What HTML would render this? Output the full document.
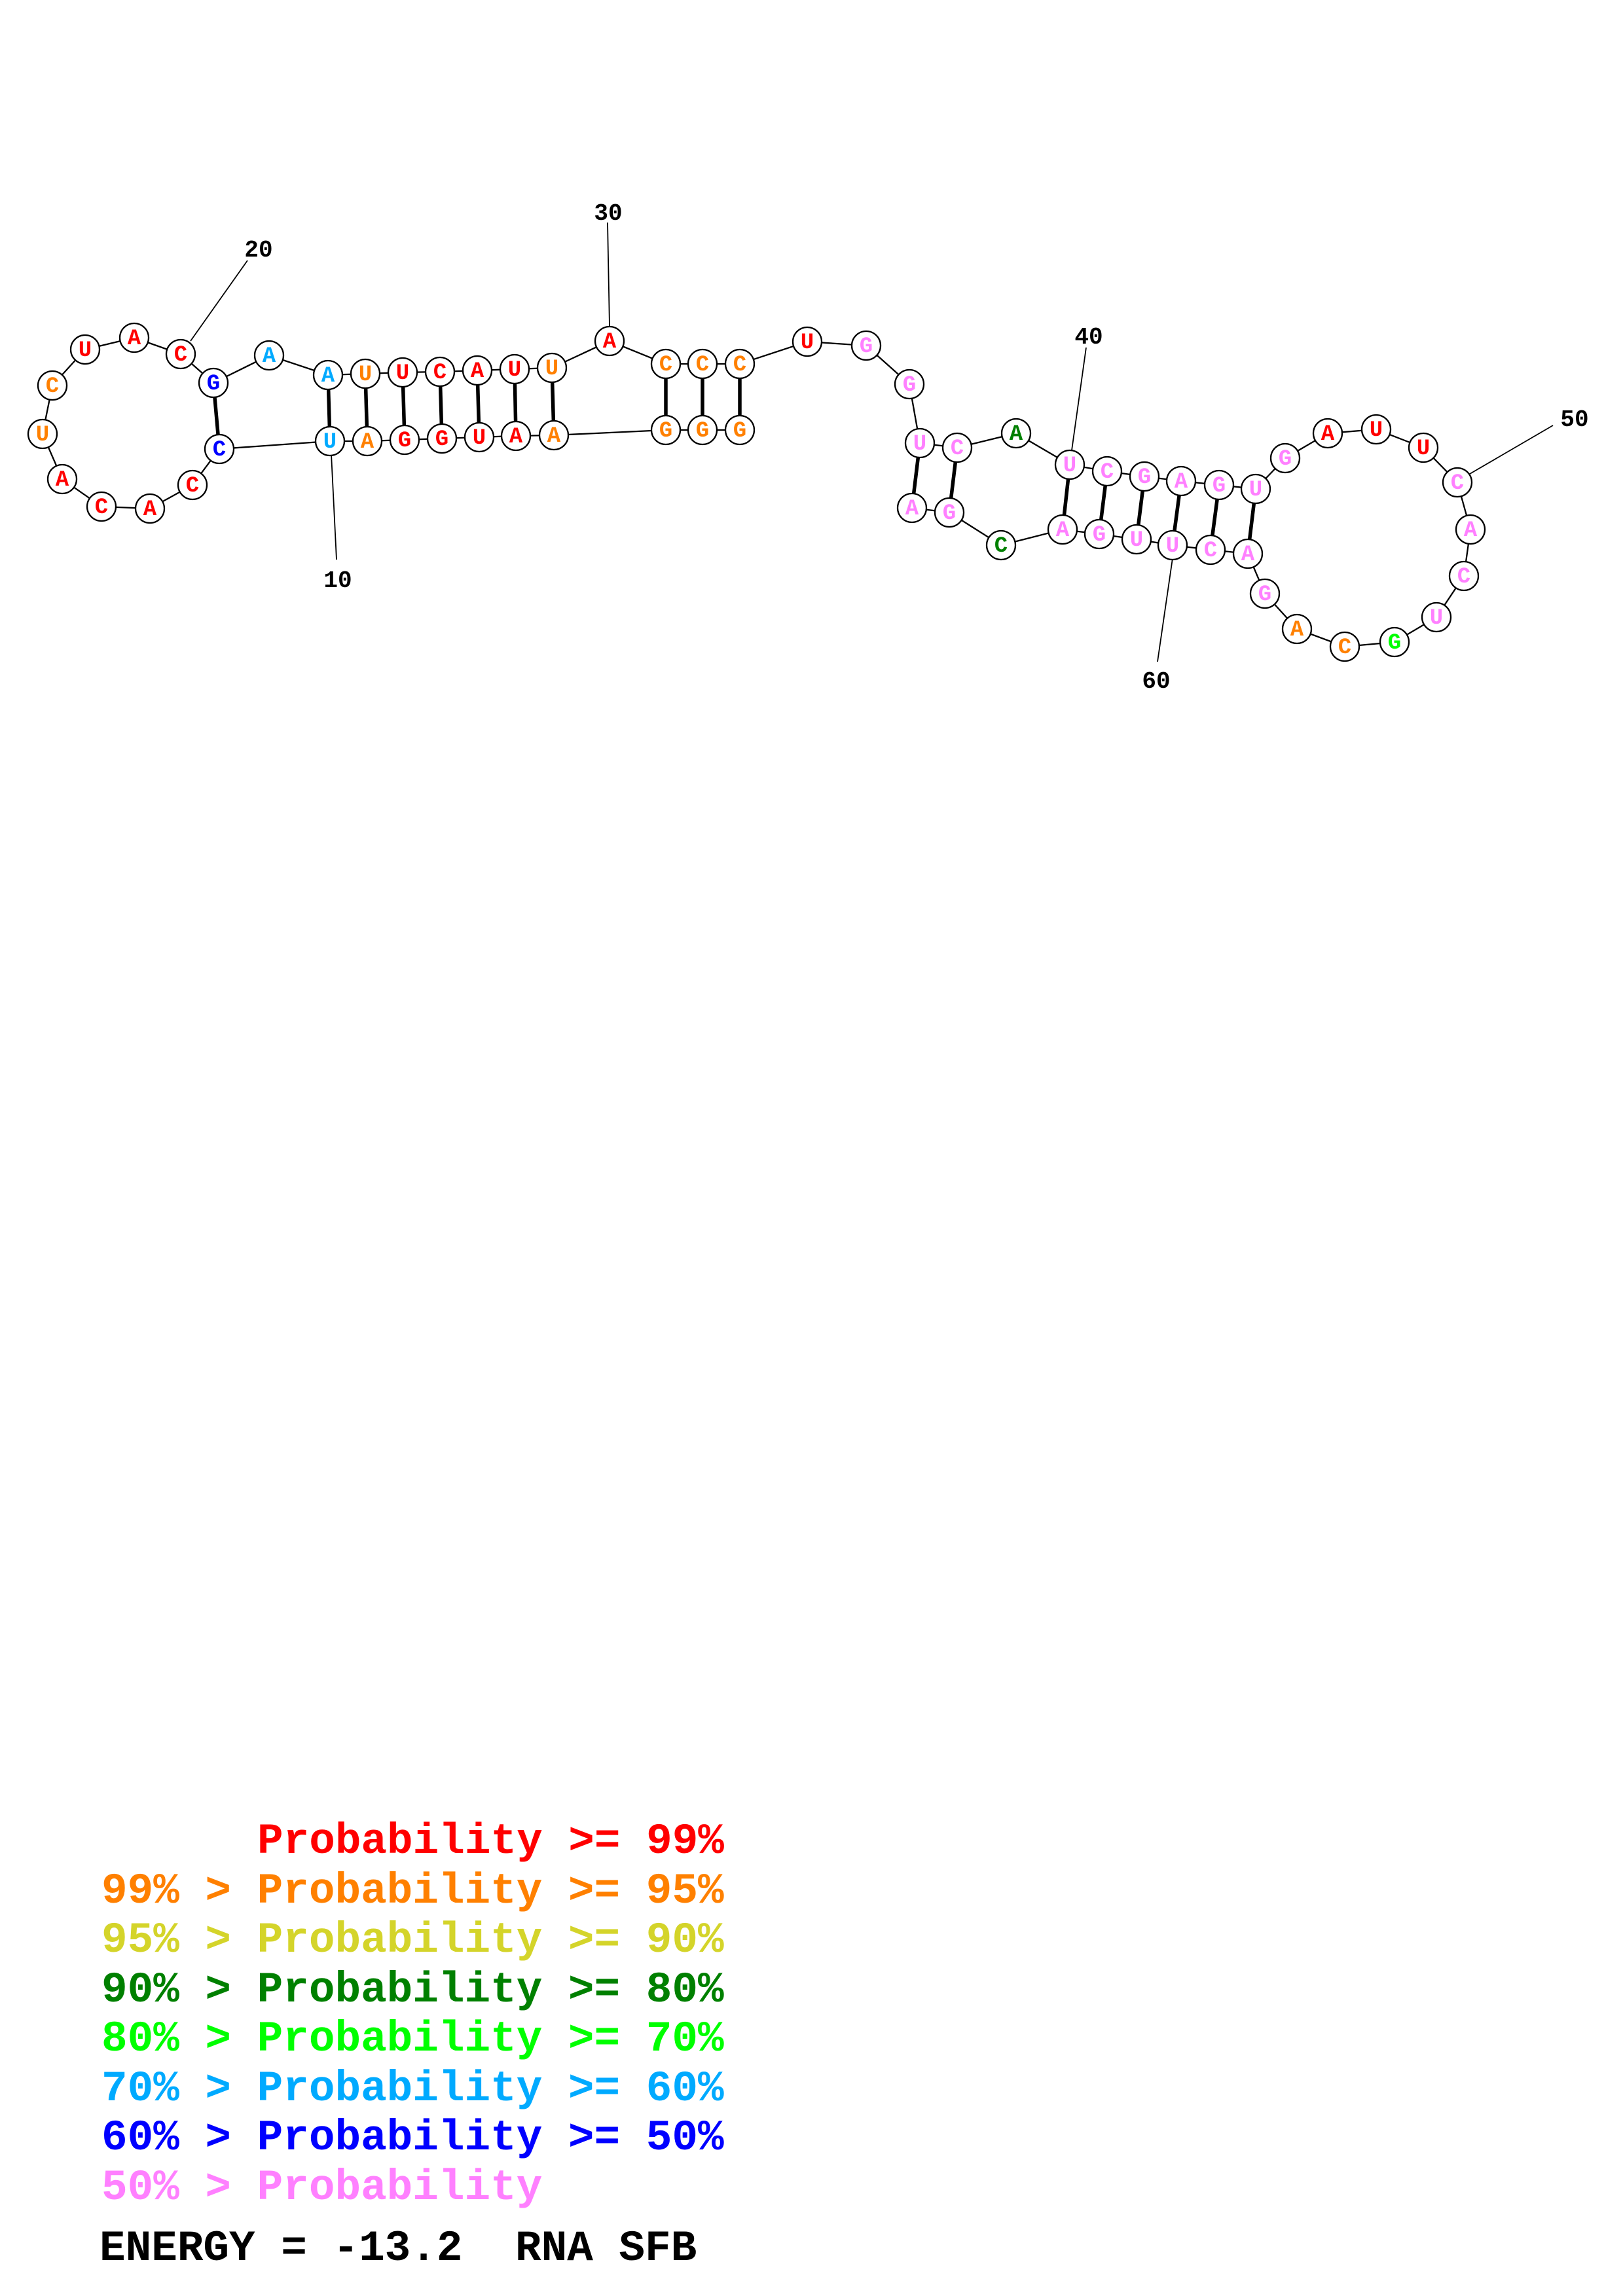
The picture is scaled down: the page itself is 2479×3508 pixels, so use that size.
<!DOCTYPE html>
<html><head><meta charset="utf-8"><style>
html,body{margin:0;padding:0;background:#fff;}
svg{display:block;}
.n text{font-family:"Liberation Mono",monospace;font-weight:bold;font-size:34px;text-anchor:middle;dominant-baseline:central;}
.lab{font-family:"Liberation Mono",monospace;font-weight:bold;font-size:36px;text-anchor:middle;}
.leg{font-family:"Liberation Mono",monospace;font-weight:bold;font-size:66px;}
</style></head><body>
<svg width="2479" height="3508" viewBox="0 0 2479 3508" xmlns="http://www.w3.org/2000/svg">
<rect width="2479" height="3508" fill="#fff"/>
<polyline fill="none" stroke="#000" stroke-width="2.3" points="1130,657 1073,657 1017,657 846,665 788,666 732,668 675,670 618,672 561,674 504,674 335,686 294,741 229,777 155,774 95,732 65,663 80,589 130,534 205,516 276,541 326,585 411,543 501,573 558,571 615,569 672,568 729,566 786,564 843,562 931,521 1017,556 1073,556 1130,556 1233,522 1323,528 1389,587 1405,677 1462,684 1552,662 1634,710 1691,720 1748,728 1804,735 1862,741 1918,747 1963,700 2028,662 2102,656 2174,684 2226,737 2246,809 2236,880 2194,943 2130,981 2054,988 1981,961 1932,907 1906,846 1849,840 1791,833 1736,824 1679,816 1623,809 1529,833 1450,783 1393,776"/>
<g stroke="#000" stroke-width="5.5">
<line x1="1130" y1="657" x2="1130" y2="556"/>
<line x1="1073" y1="657" x2="1073" y2="556"/>
<line x1="1017" y1="657" x2="1017" y2="556"/>
<line x1="846" y1="665" x2="843" y2="562"/>
<line x1="788" y1="666" x2="786" y2="564"/>
<line x1="732" y1="668" x2="729" y2="566"/>
<line x1="675" y1="670" x2="672" y2="568"/>
<line x1="618" y1="672" x2="615" y2="569"/>
<line x1="561" y1="674" x2="558" y2="571"/>
<line x1="504" y1="674" x2="501" y2="573"/>
<line x1="335" y1="686" x2="326" y2="585"/>
<line x1="1405" y1="677" x2="1393" y2="776"/>
<line x1="1462" y1="684" x2="1450" y2="783"/>
<line x1="1634" y1="710" x2="1623" y2="809"/>
<line x1="1691" y1="720" x2="1679" y2="816"/>
<line x1="1748" y1="728" x2="1736" y2="824"/>
<line x1="1804" y1="735" x2="1791" y2="833"/>
<line x1="1862" y1="741" x2="1849" y2="840"/>
<line x1="1918" y1="747" x2="1906" y2="846"/>
</g>
<g stroke="#000" stroke-width="1.8">
<line x1="506" y1="694" x2="514" y2="855"/>
<line x1="291" y1="521" x2="378" y2="398"/>
<line x1="931" y1="499" x2="928" y2="340"/>
<line x1="1637" y1="688" x2="1659" y2="531"/>
<line x1="2245" y1="724" x2="2372" y2="650"/>
<line x1="1791" y1="853" x2="1768" y2="1011"/>
</g>
<g class="lab">
<text x="516" y="897">10</text>
<text x="395" y="392">20</text>
<text x="929" y="336">30</text>
<text x="1663" y="525">40</text>
<text x="2405" y="651">50</text>
<text x="1766" y="1051">60</text>
</g>
<g class="n" stroke-width="2.3">
<g><circle cx="1130" cy="657" r="22" fill="#fff" stroke="#000"/><text x="1130" y="659" fill="#FF8000">G</text></g>
<g><circle cx="1073" cy="657" r="22" fill="#fff" stroke="#000"/><text x="1073" y="659" fill="#FF8000">G</text></g>
<g><circle cx="1017" cy="657" r="22" fill="#fff" stroke="#000"/><text x="1017" y="659" fill="#FF8000">G</text></g>
<g><circle cx="846" cy="665" r="22" fill="#fff" stroke="#000"/><text x="846" y="667" fill="#FF8000">A</text></g>
<g><circle cx="788" cy="666" r="22" fill="#fff" stroke="#000"/><text x="788" y="668" fill="#FF0000">A</text></g>
<g><circle cx="732" cy="668" r="22" fill="#fff" stroke="#000"/><text x="732" y="670" fill="#FF0000">U</text></g>
<g><circle cx="675" cy="670" r="22" fill="#fff" stroke="#000"/><text x="675" y="672" fill="#FF0000">G</text></g>
<g><circle cx="618" cy="672" r="22" fill="#fff" stroke="#000"/><text x="618" y="674" fill="#FF0000">G</text></g>
<g><circle cx="561" cy="674" r="22" fill="#fff" stroke="#000"/><text x="561" y="676" fill="#FF8000">A</text></g>
<g><circle cx="504" cy="674" r="22" fill="#fff" stroke="#000"/><text x="504" y="676" fill="#00AAFF">U</text></g>
<g><circle cx="335" cy="686" r="22" fill="#fff" stroke="#000"/><text x="335" y="688" fill="#0000FF">C</text></g>
<g><circle cx="294" cy="741" r="22" fill="#fff" stroke="#000"/><text x="294" y="743" fill="#FF0000">C</text></g>
<g><circle cx="229" cy="777" r="22" fill="#fff" stroke="#000"/><text x="229" y="779" fill="#FF0000">A</text></g>
<g><circle cx="155" cy="774" r="22" fill="#fff" stroke="#000"/><text x="155" y="776" fill="#FF0000">C</text></g>
<g><circle cx="95" cy="732" r="22" fill="#fff" stroke="#000"/><text x="95" y="734" fill="#FF0000">A</text></g>
<g><circle cx="65" cy="663" r="22" fill="#fff" stroke="#000"/><text x="65" y="665" fill="#FF8000">U</text></g>
<g><circle cx="80" cy="589" r="22" fill="#fff" stroke="#000"/><text x="80" y="591" fill="#FF8000">C</text></g>
<g><circle cx="130" cy="534" r="22" fill="#fff" stroke="#000"/><text x="130" y="536" fill="#FF0000">U</text></g>
<g><circle cx="205" cy="516" r="22" fill="#fff" stroke="#000"/><text x="205" y="518" fill="#FF0000">A</text></g>
<g><circle cx="276" cy="541" r="22" fill="#fff" stroke="#000"/><text x="276" y="543" fill="#FF0000">C</text></g>
<g><circle cx="326" cy="585" r="22" fill="#fff" stroke="#000"/><text x="326" y="587" fill="#0000FF">G</text></g>
<g><circle cx="411" cy="543" r="22" fill="#fff" stroke="#000"/><text x="411" y="545" fill="#00AAFF">A</text></g>
<g><circle cx="501" cy="573" r="22" fill="#fff" stroke="#000"/><text x="501" y="575" fill="#00AAFF">A</text></g>
<g><circle cx="558" cy="571" r="22" fill="#fff" stroke="#000"/><text x="558" y="573" fill="#FF8000">U</text></g>
<g><circle cx="615" cy="569" r="22" fill="#fff" stroke="#000"/><text x="615" y="571" fill="#FF0000">U</text></g>
<g><circle cx="672" cy="568" r="22" fill="#fff" stroke="#000"/><text x="672" y="570" fill="#FF0000">C</text></g>
<g><circle cx="729" cy="566" r="22" fill="#fff" stroke="#000"/><text x="729" y="568" fill="#FF0000">A</text></g>
<g><circle cx="786" cy="564" r="22" fill="#fff" stroke="#000"/><text x="786" y="566" fill="#FF0000">U</text></g>
<g><circle cx="843" cy="562" r="22" fill="#fff" stroke="#000"/><text x="843" y="564" fill="#FF8000">U</text></g>
<g><circle cx="931" cy="521" r="22" fill="#fff" stroke="#000"/><text x="931" y="523" fill="#FF0000">A</text></g>
<g><circle cx="1017" cy="556" r="22" fill="#fff" stroke="#000"/><text x="1017" y="558" fill="#FF8000">C</text></g>
<g><circle cx="1073" cy="556" r="22" fill="#fff" stroke="#000"/><text x="1073" y="558" fill="#FF8000">C</text></g>
<g><circle cx="1130" cy="556" r="22" fill="#fff" stroke="#000"/><text x="1130" y="558" fill="#FF8000">C</text></g>
<g><circle cx="1233" cy="522" r="22" fill="#fff" stroke="#000"/><text x="1233" y="524" fill="#FF0000">U</text></g>
<g><circle cx="1323" cy="528" r="22" fill="#fff" stroke="#000"/><text x="1323" y="530" fill="#FF80FF">G</text></g>
<g><circle cx="1389" cy="587" r="22" fill="#fff" stroke="#000"/><text x="1389" y="589" fill="#FF80FF">G</text></g>
<g><circle cx="1405" cy="677" r="22" fill="#fff" stroke="#000"/><text x="1405" y="679" fill="#FF80FF">U</text></g>
<g><circle cx="1462" cy="684" r="22" fill="#fff" stroke="#000"/><text x="1462" y="686" fill="#FF80FF">C</text></g>
<g><circle cx="1552" cy="662" r="22" fill="#fff" stroke="#000"/><text x="1552" y="664" fill="#008000">A</text></g>
<g><circle cx="1634" cy="710" r="22" fill="#fff" stroke="#000"/><text x="1634" y="712" fill="#FF80FF">U</text></g>
<g><circle cx="1691" cy="720" r="22" fill="#fff" stroke="#000"/><text x="1691" y="722" fill="#FF80FF">C</text></g>
<g><circle cx="1748" cy="728" r="22" fill="#fff" stroke="#000"/><text x="1748" y="730" fill="#FF80FF">G</text></g>
<g><circle cx="1804" cy="735" r="22" fill="#fff" stroke="#000"/><text x="1804" y="737" fill="#FF80FF">A</text></g>
<g><circle cx="1862" cy="741" r="22" fill="#fff" stroke="#000"/><text x="1862" y="743" fill="#FF80FF">G</text></g>
<g><circle cx="1918" cy="747" r="22" fill="#fff" stroke="#000"/><text x="1918" y="749" fill="#FF80FF">U</text></g>
<g><circle cx="1963" cy="700" r="22" fill="#fff" stroke="#000"/><text x="1963" y="702" fill="#FF80FF">G</text></g>
<g><circle cx="2028" cy="662" r="22" fill="#fff" stroke="#000"/><text x="2028" y="664" fill="#FF0000">A</text></g>
<g><circle cx="2102" cy="656" r="22" fill="#fff" stroke="#000"/><text x="2102" y="658" fill="#FF0000">U</text></g>
<g><circle cx="2174" cy="684" r="22" fill="#fff" stroke="#000"/><text x="2174" y="686" fill="#FF0000">U</text></g>
<g><circle cx="2226" cy="737" r="22" fill="#fff" stroke="#000"/><text x="2226" y="739" fill="#FF80FF">C</text></g>
<g><circle cx="2246" cy="809" r="22" fill="#fff" stroke="#000"/><text x="2246" y="811" fill="#FF80FF">A</text></g>
<g><circle cx="2236" cy="880" r="22" fill="#fff" stroke="#000"/><text x="2236" y="882" fill="#FF80FF">C</text></g>
<g><circle cx="2194" cy="943" r="22" fill="#fff" stroke="#000"/><text x="2194" y="945" fill="#FF80FF">U</text></g>
<g><circle cx="2130" cy="981" r="22" fill="#fff" stroke="#000"/><text x="2130" y="983" fill="#00FF00">G</text></g>
<g><circle cx="2054" cy="988" r="22" fill="#fff" stroke="#000"/><text x="2054" y="990" fill="#FF8000">C</text></g>
<g><circle cx="1981" cy="961" r="22" fill="#fff" stroke="#000"/><text x="1981" y="963" fill="#FF8000">A</text></g>
<g><circle cx="1932" cy="907" r="22" fill="#fff" stroke="#000"/><text x="1932" y="909" fill="#FF80FF">G</text></g>
<g><circle cx="1906" cy="846" r="22" fill="#fff" stroke="#000"/><text x="1906" y="848" fill="#FF80FF">A</text></g>
<g><circle cx="1849" cy="840" r="22" fill="#fff" stroke="#000"/><text x="1849" y="842" fill="#FF80FF">C</text></g>
<g><circle cx="1791" cy="833" r="22" fill="#fff" stroke="#000"/><text x="1791" y="835" fill="#FF80FF">U</text></g>
<g><circle cx="1736" cy="824" r="22" fill="#fff" stroke="#000"/><text x="1736" y="826" fill="#FF80FF">U</text></g>
<g><circle cx="1679" cy="816" r="22" fill="#fff" stroke="#000"/><text x="1679" y="818" fill="#FF80FF">G</text></g>
<g><circle cx="1623" cy="809" r="22" fill="#fff" stroke="#000"/><text x="1623" y="811" fill="#FF80FF">A</text></g>
<g><circle cx="1529" cy="833" r="22" fill="#fff" stroke="#000"/><text x="1529" y="835" fill="#008000">C</text></g>
<g><circle cx="1450" cy="783" r="22" fill="#fff" stroke="#000"/><text x="1450" y="785" fill="#FF80FF">G</text></g>
<g><circle cx="1393" cy="776" r="22" fill="#fff" stroke="#000"/><text x="1393" y="778" fill="#FF80FF">A</text></g>
</g>
<g class="leg">
<text x="393" y="2831" fill="#FF0000">Probability &gt;= 99%</text>
<text x="155" y="2907" fill="#FF8000">99% &gt; Probability &gt;= 95%</text>
<text x="155" y="2982" fill="#D4D42A">95% &gt; Probability &gt;= 90%</text>
<text x="155" y="3058" fill="#008000">90% &gt; Probability &gt;= 80%</text>
<text x="155" y="3133" fill="#00FF00">80% &gt; Probability &gt;= 70%</text>
<text x="155" y="3209" fill="#00AAFF">70% &gt; Probability &gt;= 60%</text>
<text x="155" y="3284" fill="#0000FF">60% &gt; Probability &gt;= 50%</text>
<text x="155" y="3360" fill="#FF80FF">50% &gt; Probability</text>
<text x="152" y="3453" fill="#000">ENERGY = -13.2</text>
<text x="787" y="3453" fill="#000">RNA SFB</text>
</g>
</svg>
</body></html>
